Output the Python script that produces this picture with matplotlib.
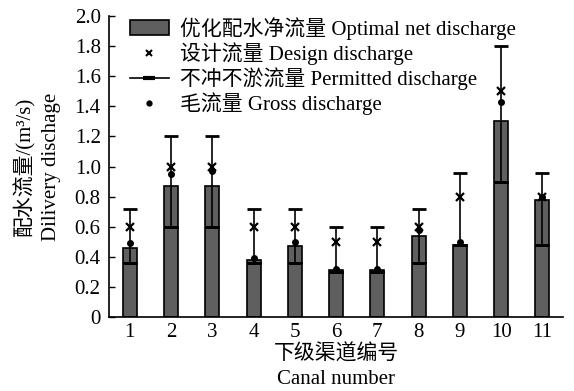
import numpy as np
import matplotlib
matplotlib.use("Agg")
import matplotlib.pyplot as plt
from matplotlib.patches import Patch
from matplotlib.lines import Line2D

plt.rcParams['font.family'] = ['Liberation Serif', 'Noto Sans CJK SC']
plt.rcParams['font.size'] = 15

# 渠道编号与各流量 (m3/s)
canals = [1, 2, 3, 4, 5, 6, 7, 8, 9, 10, 11]
net_flow = [0.46, 0.87, 0.87, 0.38, 0.47, 0.31, 0.31, 0.54, 0.48, 1.30, 0.78]
design_flow = [0.60, 1.00, 1.00, 0.60, 0.60, 0.50, 0.50, 0.60, 0.80, 1.50, 0.80]
permit_low = [0.36, 0.60, 0.60, 0.36, 0.36, 0.30, 0.30, 0.36, 0.48, 0.90, 0.48]
permit_high = [0.72, 1.20, 1.20, 0.72, 0.72, 0.60, 0.60, 0.72, 0.96, 1.80, 0.96]
gross_flow = [0.49, 0.95, 0.97, 0.39, 0.50, 0.32, 0.32, 0.58, 0.50, 1.43, 0.80]

fig = plt.figure(figsize=(5.74, 3.91), dpi=100)
ax = fig.add_axes([0.19, 0.189, 0.791, 0.77])

x = np.array(canals)
low = np.array(permit_low)
high = np.array(permit_high)

ax.bar(x, net_flow, width=0.34, color='#5f5f5f', edgecolor='black', linewidth=1.2, zorder=2)
ax.errorbar(x, low, yerr=[np.zeros_like(low), high - low], fmt='none',
            ecolor='black', elinewidth=1.2, capsize=5, capthick=2, zorder=3)
# 下限横线
ax.errorbar(x, low, yerr=[np.zeros_like(low), np.zeros_like(low)], fmt='none',
            ecolor='black', elinewidth=0, capsize=5, capthick=2, zorder=3)
ax.plot(x, design_flow, 'x', color='black', markersize=6, markeredgewidth=1.6, zorder=4)
ax.plot(x, gross_flow, 'o', color='black', markersize=4, zorder=4)

ax.set_xlim(0.5, 11.5)
ax.set_ylim(0, 2.0)
ax.set_xticks(canals)
ax.set_yticks(np.arange(0, 2.01, 0.2))
ax.set_yticklabels(['0'] + [f'{v:.1f}' for v in np.arange(0.2, 2.01, 0.2)])
ax.tick_params(axis='y', direction='in', length=4, width=1, pad=6)
ax.tick_params(axis='x', length=0, pad=4)
ax.spines['top'].set_visible(False)
ax.spines['right'].set_visible(False)
for s in ['left', 'bottom']:
    ax.spines[s].set_linewidth(1.2)

ax.set_ylabel('配水流量/(m³/s)\nDilivery dischage', linespacing=1.45, labelpad=10)
ax.set_xlabel('下级渠道编号\nCanal number', linespacing=1.4, labelpad=2)

handles = [
    Patch(facecolor='#5f5f5f', edgecolor='black', linewidth=1.2),
    Line2D([], [], linestyle='none', marker='x', color='black', markersize=5, markeredgewidth=1.5),
    Line2D([], [], color='black', linewidth=1.2, marker='_', markersize=9, markeredgewidth=3),
    Line2D([], [], linestyle='none', marker='o', color='black', markersize=3.5),
]
labels = [
    '优化配水净流量 Optimal net discharge',
    '设计流量 Design discharge',
    '不冲不淤流量 Permitted discharge',
    '毛流量 Gross discharge',
]
ax.legend(handles, labels, loc='upper left', bbox_to_anchor=(0.027, 1.025), frameon=False,
          handlelength=1.9, handletextpad=0.5, labelspacing=0.12, borderaxespad=0)

fig.savefig('out.png', dpi=100)
